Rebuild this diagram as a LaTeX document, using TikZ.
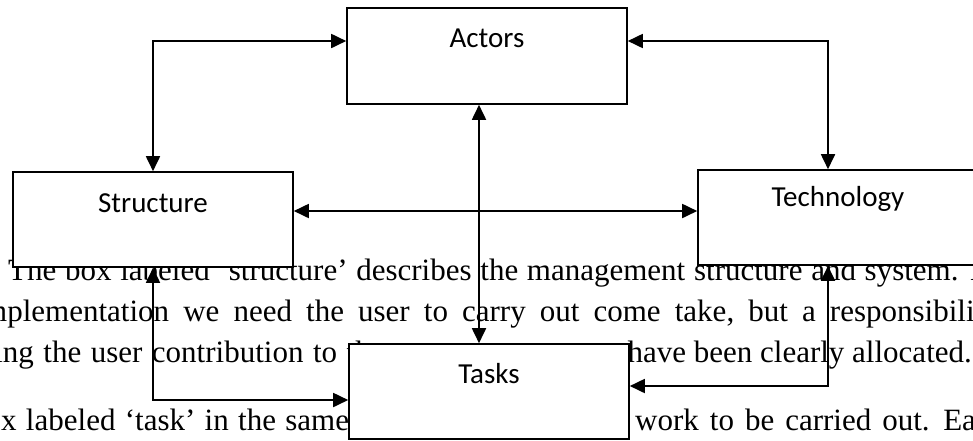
\documentclass[tikz,border=0pt]{standalone}
\usepackage{fontspec}
\setmainfont{Liberation Serif}
\newfontfamily\boxfont{Carlito}
\usepackage{tikz}
\usetikzlibrary{arrows.meta,positioning}

\tikzset{
  block/.style={rectangle, draw=black, line width=1.6pt, fill=white, minimum width=280pt, inner xsep=0pt, inner ysep=0pt, anchor=base, font=\boxfont\fontsize{29}{29}\selectfont},
  para/.style={anchor=base west, inner sep=0pt, font=\fontsize{31}{31}\selectfont},
  link/.style={<->, line width=1.8pt}
}

\begin{document}
\begin{tikzpicture}[x=1pt, y=-1pt, >={Triangle[length=15pt,width=14pt]}]
   \useasboundingbox (0,0) rectangle (973,440);
   \clip (0,0) rectangle (973,440);

   %text behind the figure
   \node[para] (l1) at (8,280) {\spaceskip=8.7pt\relax The box labeled ‘structure’ describes the management structure and system. In};
   \node[para] (l2) at (-25.6,321) {\spaceskip=14.1pt\relax implementation we need the user to carry out come take, but a responsibility};
   \node[para] (l3a) at (-73,362) {\spaceskip=9.5pt\relax ensuring the user contribution to the};
   \node[para, anchor=base east] (l3b) at (972,362) {have been clearly allocated.};
   \node[para] (l4a) at (-30,430) {\spaceskip=9.3pt\relax box labeled ‘task’ in the same};
   \node[para] (l4b) at (635,430) {\spaceskip=11pt\relax work to be carried out. Each};

   %boxes
   \node[block, text height=39pt, text depth=57pt] (actors) at (487,47) {Actors};
   \node[block, text height=40pt, text depth=55pt] (structure) at (153,212) {Structure};
   \node[block, text height=36pt, text depth=59pt] (tech) at (838,206) {Technology};
   \node[block, text height=39pt, text depth=56pt] (tasks) at (489,383) {Tasks};

   %links
   \draw[link] (structure.north) |- ([yshift=15pt]actors.west);
   \draw[link] ([yshift=15pt]actors.east) -| ([xshift=-10pt]tech.north);
   \draw[link] ([yshift=8.5pt]structure.east) -- ([yshift=6.5pt]tech.west);
   \draw[link] ([xshift=-8pt]actors.south) -- ([xshift=-10pt]tasks.north);
   \draw[link] (structure.south) |- ([yshift=-8.5pt]tasks.west);
   \draw[link] ([xshift=-10pt]tech.south) |- ([yshift=5.5pt]tasks.east);
\end{tikzpicture}
\end{document}
